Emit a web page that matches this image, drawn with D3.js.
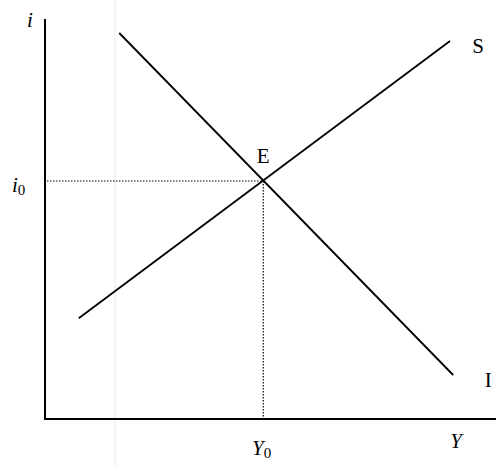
<!DOCTYPE html>
<html><head><meta charset="utf-8">
<script src="https://cdn.jsdelivr.net/npm/d3@7"></script>
<style>body{margin:0;background:#fff}svg{display:block}</style>
</head><body>
<script>
// Data (abstract units)
const sCurve = [{x:0.75, y:2.52},{x:9.0, y:9.45}];   // Saving S
const iCurve = [{x:1.65, y:9.65},{x:9.07, y:1.10}];  // Investment I
const equilibrium = {x:4.85, y:5.95, label:"E"};
const curveLabels = ["S","I"];
const axisLabels = {y:"i", x:"Y", y0:"i", x0:"Y"};

const W=496,H=466;
const svg=d3.select("body").append("svg").attr("width",W).attr("height",H);
const x=d3.scaleLinear().domain([0,10]).range([45,495]);
const y=d3.scaleLinear().domain([0,10]).range([419,19]);

// faint background rule (from the source page)
svg.append("line").attr("x1",115).attr("x2",115).attr("y1",0).attr("y2",H).attr("stroke","#e8e8e8").attr("stroke-width",1);

const g=svg.append("g");
// axes
g.append("line").attr("x1",x(0)).attr("x2",x(0)).attr("y1",y(10)).attr("y2",y(0)+1).attr("stroke","#000").attr("stroke-width",2);
g.append("line").attr("x1",x(0)).attr("x2",x(10)+2).attr("y1",y(0)).attr("y2",y(0)).attr("stroke","#000").attr("stroke-width",2);

// dotted guides
g.append("line").attr("x1",x(0)+2).attr("x2",x(equilibrium.x)).attr("y1",y(equilibrium.y)).attr("y2",y(equilibrium.y))
 .attr("stroke","#000").attr("stroke-width",1.2).attr("stroke-dasharray","1.5,1.5");
g.append("line").attr("x1",x(equilibrium.x)).attr("x2",x(equilibrium.x)).attr("y1",y(equilibrium.y)).attr("y2",y(0))
 .attr("stroke","#000").attr("stroke-width",1.2).attr("stroke-dasharray","1.5,1.5");

const line=d3.line().x(d=>x(d.x)).y(d=>y(d.y));
[sCurve,iCurve].forEach(c=>g.append("path").attr("d",line(c)).attr("fill","none").attr("stroke","#000").attr("stroke-width",1.8));

const F="Liberation Serif, serif";
function txt(px,py,t,opts={}){
  return g.append("text").attr("x",px).attr("y",py).attr("font-family",F).attr("font-size",opts.size||21)
   .attr("font-style",opts.italic?"italic":"normal").attr("text-anchor",opts.anchor||"middle").text(t);
}
txt(x(equilibrium.x),y(equilibrium.y)-18,equilibrium.label);
txt(x(sCurve[1].x)+28,y(sCurve[1].y)+12,curveLabels[0]);
txt(x(iCurve[1].x)+35,y(iCurve[1].y)+12,curveLabels[1]);
txt(30,27,axisLabels.y,{italic:true});
txt(456,448,axisLabels.x,{italic:true});
// i0
const t0=txt(12,192,"",{anchor:"start"});
t0.append("tspan").attr("font-style","italic").text(axisLabels.y0);
t0.append("tspan").attr("font-size",15).attr("dy",3).text("0");
const t1=txt(252,455,"",{anchor:"start"});
t1.append("tspan").attr("font-style","italic").text(axisLabels.x0);
t1.append("tspan").attr("font-size",15).attr("dy",3).text("0");
</script>
</body></html>
